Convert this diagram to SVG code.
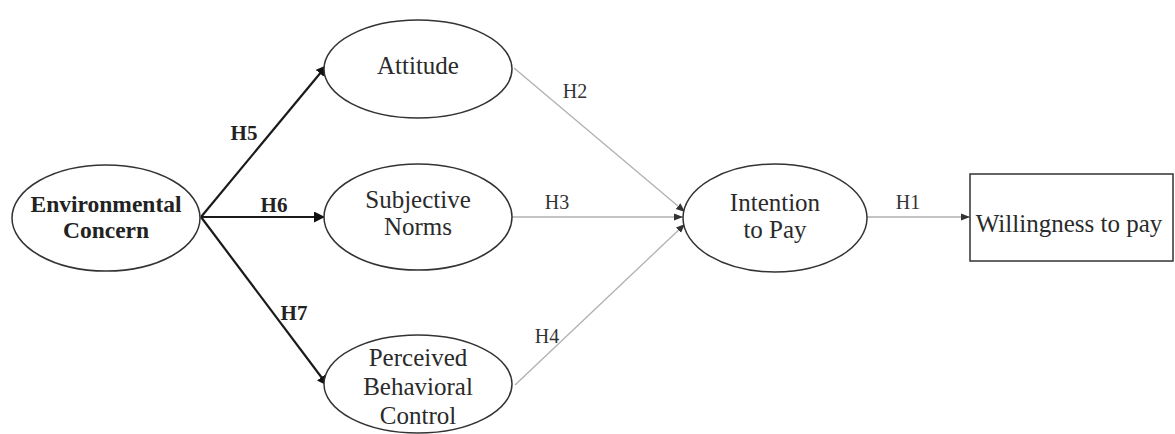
<svg xmlns="http://www.w3.org/2000/svg" width="1175" height="434" viewBox="0 0 1175 434">
<style>
.node{fill:#fff;stroke:#333;stroke-width:1.5}
.t{font-family:"Liberation Serif",serif;font-size:25px;fill:#2a2a2a;text-anchor:middle}
.tb{font-family:"Liberation Serif",serif;font-size:23.5px;font-weight:bold;fill:#222;text-anchor:middle}
.lb{font-family:"Liberation Serif",serif;font-size:21px;font-weight:bold;fill:#222;text-anchor:middle}
.lr{font-family:"Liberation Serif",serif;font-size:20px;fill:#333;text-anchor:middle}
.strong{stroke:#1a1a1a;stroke-width:2.2;fill:none}
.weak{stroke:#b0b0b0;stroke-width:1.3;fill:none}
</style>
<defs>
<marker id="ah" viewBox="0 0 10 10" refX="10" refY="5" markerWidth="5" markerHeight="5" orient="auto" markerUnits="strokeWidth"><path d="M0,0 L10,5 L0,10 Z" fill="#111"/></marker>
<marker id="ahs" viewBox="0 0 10 10" refX="10" refY="5" markerWidth="7" markerHeight="7" orient="auto" markerUnits="strokeWidth"><path d="M0,1 L10,5 L0,9 Z" fill="#333"/></marker>
</defs>
<rect width="1175" height="434" fill="#fff"/>
<g id="connectors">
<line class="strong" x1="201" y1="217" x2="327" y2="65" marker-end="url(#ah)"/>
<line class="strong" x1="201" y1="217" x2="325" y2="217" marker-end="url(#ah)"/>
<line class="strong" x1="201" y1="217" x2="328" y2="386" marker-end="url(#ah)"/>
<line class="weak" x1="514" y1="68" x2="685" y2="212" marker-end="url(#ahs)"/>
<line class="weak" x1="512" y1="217" x2="683" y2="217" marker-end="url(#ahs)"/>
<line class="weak" x1="515" y1="385" x2="685" y2="224" marker-end="url(#ahs)"/>
<line class="weak" x1="867" y1="217" x2="970" y2="217" marker-end="url(#ahs)"/>
<text class="lb" x="244" y="140">H5</text>
<text class="lb" x="274" y="212">H6</text>
<text class="lb" x="294" y="320">H7</text>
<text class="lr" x="575" y="98">H2</text>
<text class="lr" x="557" y="209">H3</text>
<text class="lr" x="547" y="343">H4</text>
<text class="lr" x="908" y="209">H1</text>
</g>
<g id="env">
<ellipse class="node" cx="106" cy="218" rx="94" ry="53"/>
<text class="tb" x="106" y="212">Environmental</text>
<text class="tb" x="106" y="238">Concern</text>
</g>
<g id="attitude">
<ellipse class="node" cx="418" cy="69" rx="94" ry="49"/>
<text class="t" x="418" y="74">Attitude</text>
</g>
<g id="norms">
<ellipse class="node" cx="418" cy="217" rx="94" ry="53"/>
<text class="t" x="418" y="208">Subjective</text>
<text class="t" x="418" y="235">Norms</text>
</g>
<g id="pbc">
<ellipse class="node" cx="418" cy="384" rx="94" ry="49"/>
<text class="t" x="418" y="366">Perceived</text>
<text class="t" x="418" y="395">Behavioral</text>
<text class="t" x="418" y="424">Control</text>
</g>
<g id="intention">
<ellipse class="node" cx="775" cy="218" rx="92" ry="54"/>
<text class="t" x="775" y="211">Intention</text>
<text class="t" x="775" y="238">to Pay</text>
</g>
<g id="wtp">
<rect class="node" x="970" y="174" width="203" height="87"/>
<text class="t" x="1069" y="232">Willingness to pay</text>
</g>
</svg>
